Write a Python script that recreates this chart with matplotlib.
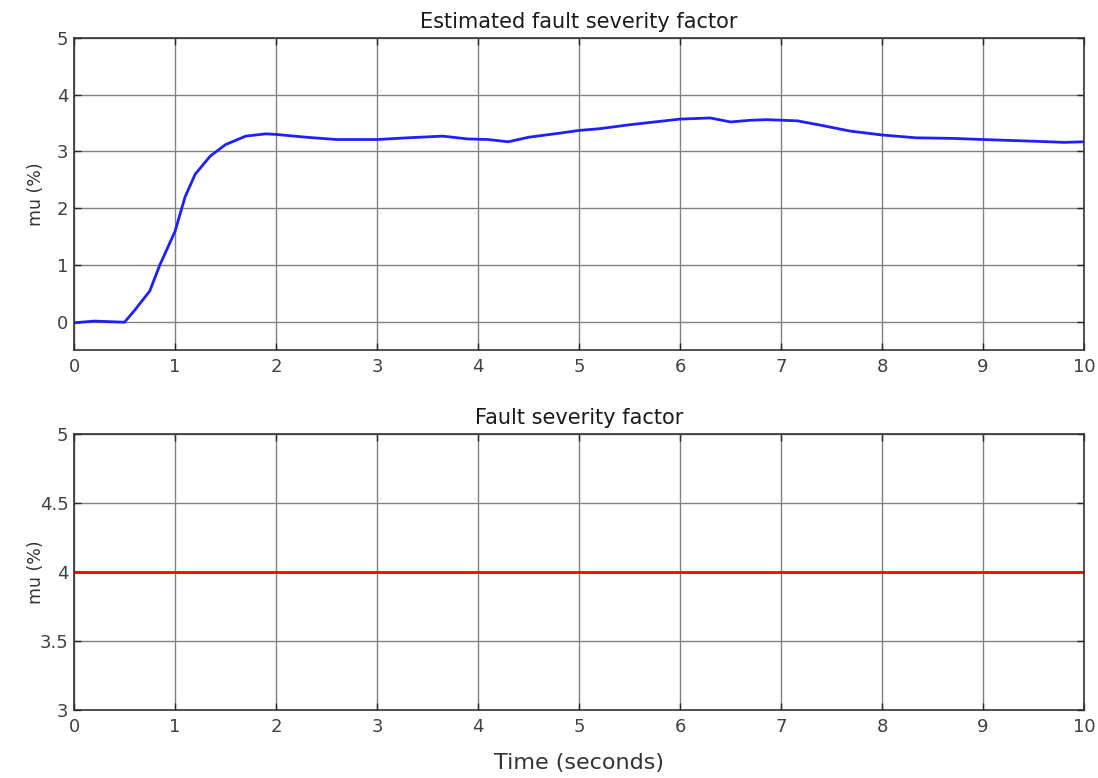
import matplotlib.pyplot as plt
import numpy as np

plt.rcParams['font.family'] = ['DejaVu Sans']

# estimated fault severity
t_est = [0, 0.2, 0.5, 0.6, 0.75, 0.85, 1.0, 1.1, 1.2, 1.35, 1.5, 1.7, 1.9, 2.0,
         2.3, 2.6, 3.0, 3.3, 3.65, 3.9, 4.1, 4.3, 4.5, 4.8, 5.0, 5.2, 5.5, 5.8,
         6.0, 6.3, 6.5, 6.7, 6.86, 7.16, 7.4, 7.68, 8.0, 8.34, 8.7, 9.0, 9.5,
         9.8, 10.0]
mu_est = [-0.02, 0.01, -0.01, 0.2, 0.54, 1.0, 1.59, 2.2, 2.6, 2.92, 3.12, 3.27,
          3.31, 3.30, 3.25, 3.21, 3.21, 3.24, 3.27, 3.22, 3.21, 3.17, 3.25, 3.32,
          3.37, 3.40, 3.47, 3.53, 3.57, 3.59, 3.52, 3.55, 3.56, 3.54, 3.46,
          3.36, 3.29, 3.24, 3.23, 3.21, 3.18, 3.16, 3.17]

# true fault severity
t_true = [0, 10]
mu_true = [4, 4]

fig = plt.figure(figsize=(10.98, 7.78), dpi=100)
ax1 = fig.add_axes([0.0674, 0.5501, 0.9199, 0.4011])
ax2 = fig.add_axes([0.0674, 0.0874, 0.9199, 0.3548])

fs = 13
for ax in (ax1, ax2):
    ax.grid(True, color='0.5', lw=1.0)
    ax.set_axisbelow(True)
    ax.tick_params(direction='in', top=True, right=True, labelsize=fs,
                   colors='0.15', labelcolor='0.25', length=5, width=1.0)
    ax.tick_params(axis='x', pad=6)
    ax.tick_params(axis='y', pad=4)
    ax.set_xlim(0, 10)
    ax.set_xticks(np.arange(0, 11, 1))
    for s in ax.spines.values():
        s.set_color('0.2')
        s.set_linewidth(1.2)
    ax.set_ylabel('mu (%)', fontsize=12.5, color='0.2', va='center')
    ax.yaxis.set_label_coords(-0.038, 0.5)

ax1.plot(t_est, mu_est, color='#1f1fff', lw=2)
ax1.set_ylim(-0.5, 5)
ax1.set_yticks(np.arange(0, 6, 1))
ax1.set_title('Estimated fault severity factor', fontsize=15, color='0.1', pad=7)

ax2.plot(t_true, mu_true, color='#ff0000', lw=2)
ax2.set_ylim(3, 5)
ax2.set_yticks([3, 3.5, 4, 4.5, 5])
ax2.set_yticklabels(['3', '3.5', '4', '4.5', '5'])
ax2.set_title('Fault severity factor', fontsize=15, color='0.1', pad=7)
ax2.set_xlabel('Time (seconds)', fontsize=16, color='0.2', va='center')
ax2.xaxis.set_label_coords(0.5, -0.192)

plt.savefig('out.png', dpi=100)
